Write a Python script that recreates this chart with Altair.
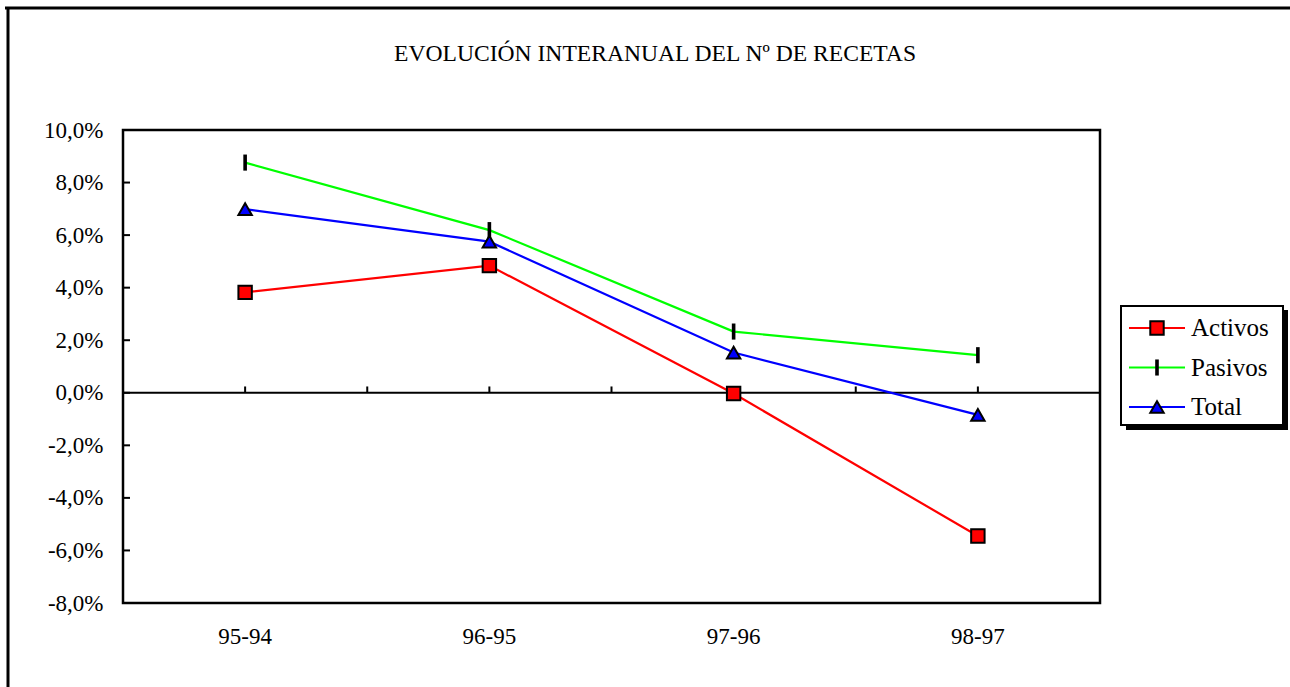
import altair as alt
import pandas as pd

categorias = ["95-94", "96-95", "97-96", "98-97"]
series = ["Activos", "Pasivos", "Total"]
activos = [0.0382, 0.0484, -0.0003, -0.0545]
pasivos = [0.0876, 0.0619, 0.0233, 0.0143]
total = [0.0699, 0.0575, 0.0153, -0.0084]
y_ticks = [-0.08, -0.06, -0.04, -0.02, 0.0, 0.02, 0.04, 0.06, 0.08, 0.10]
titulo = "EVOLUCIÓN INTERANUAL DEL Nº DE RECETAS"
colores = ["#ff0000", "#00ff00", "#0000ff"]
rellenos = ["#ff0000", "#000000", "#0000ff"]
formas = ["square", "M-0.12,-1.05H0.12V1.05H-0.12Z", "triangle-up"]

FONT = "Liberation Serif, Times New Roman, serif"
W, H = 977, 473

rows = []
for s, vals in zip(series, [activos, pasivos, total]):
    for c, v in zip(categorias, vals):
        rows.append({"cat": c, "serie": s, "valor": v})
df = pd.DataFrame(rows)

xscale = alt.Scale(type="band", domain=categorias, paddingInner=0, paddingOuter=0)
yscale = alt.Scale(domain=[-0.08, 0.10], nice=False, zero=False)
cscale = alt.Scale(domain=series, range=colores)
fscale = alt.Scale(domain=series, range=rellenos)
sscale = alt.Scale(domain=series, range=formas)

label_expr = "replace(replace(format(datum.value, '.1%'), '.', ','), '\u2212', '-')"

base = alt.Chart(df)

lines = base.mark_line(strokeWidth=2.2).encode(
    x=alt.X("cat:N", scale=xscale, bandPosition=0.5, sort=categorias,
            axis=alt.Axis(title=None, domain=False, ticks=False, labelAngle=0,
                          labelAlign="center", labelBaseline="middle",
                          labelFont=FONT, labelFontSize=23, labelColor="black",
                          labelPadding=33, grid=False)),
    y=alt.Y("valor:Q", scale=yscale,
            axis=alt.Axis(title=None, values=y_ticks, labelExpr=label_expr,
                          domain=False, ticks=False, grid=False,
                          labelFont=FONT, labelFontSize=23, labelColor="black",
                          labelPadding=20)),
    color=alt.Color("serie:N", scale=cscale, legend=None),
    detail="serie:N",
)

points = base.mark_point(filled=True, size=180, stroke="black", strokeWidth=2, opacity=1).encode(
    x=alt.X("cat:N", scale=xscale, bandPosition=0.5, sort=categorias),
    y=alt.Y("valor:Q", scale=yscale),
    fill=alt.Fill("serie:N", scale=fscale, legend=None),
    shape=alt.Shape("serie:N", scale=sscale, legend=None),
)

# zero line
zero = alt.Chart(pd.DataFrame({"z": [0.0]})).mark_rule(color="black", strokeWidth=2).encode(
    y=alt.Y("z:Q", scale=yscale)
)

# tick marks on the zero line (category centres and boundaries)
tick_df = pd.DataFrame({"cat": categorias, "y0": [0.0] * 4, "y1": [0.0024] * 4})
ticks_c = alt.Chart(tick_df).mark_rule(color="black", strokeWidth=2).encode(
    x=alt.X("cat:N", scale=xscale, bandPosition=0.5, sort=categorias),
    y=alt.Y("y0:Q", scale=yscale), y2="y1:Q"
)
ticks_b = alt.Chart(tick_df.iloc[1:]).mark_rule(color="black", strokeWidth=2).encode(
    x=alt.X("cat:N", scale=xscale, bandPosition=0, sort=categorias),
    y=alt.Y("y0:Q", scale=yscale), y2="y1:Q"
)

# inward y ticks
ytick_df = pd.DataFrame({"v": y_ticks[1:-1]})
yticks = alt.Chart(ytick_df).mark_rule(color="black", strokeWidth=2).encode(
    y=alt.Y("v:Q", scale=yscale), x=alt.value(0), x2=alt.value(7)
)

main = alt.layer(zero, ticks_c, ticks_b, yticks, lines, points)

one = pd.DataFrame({"t": [titulo]})

# outer frame (top & left)
frame_top = alt.Chart(one).mark_rule(color="black", strokeWidth=3).encode(
    x=alt.value(-118), x2=alt.value(1290), y=alt.value(-122)
)
frame_left = alt.Chart(one).mark_rule(color="black", strokeWidth=3).encode(
    x=alt.value(-115), y=alt.value(-123), y2=alt.value(700)
)
title_txt = alt.Chart(one).mark_text(align="center", baseline="alphabetic", font=FONT,
                                     fontSize=23.6, color="black").encode(
    x=alt.value(532), y=alt.value(-69), text="t:N"
)

# legend box with shadow
shadow = alt.Chart(one).mark_rect(color="black").encode(
    x=alt.value(1003), x2=alt.value(1165), y=alt.value(180), y2=alt.value(300)
)
box = alt.Chart(one).mark_rect(fill="white", stroke="black", strokeWidth=2).encode(
    x=alt.value(998), x2=alt.value(1160), y=alt.value(176), y2=alt.value(295)
)
leg_df = pd.DataFrame({"serie": series})
leg_y = alt.Y("serie:N", scale=alt.Scale(type="point", domain=series, range=[198, 277], padding=0),
              axis=None)
leg_line = alt.Chart(leg_df).mark_rule(strokeWidth=2.2).encode(
    y=leg_y, x=alt.value(1006), x2=alt.value(1062),
    color=alt.Color("serie:N", scale=cscale, legend=None),
)
leg_pt = alt.Chart(leg_df).mark_point(filled=True, size=180, stroke="black", strokeWidth=2, opacity=1).encode(
    y=leg_y, x=alt.value(1034),
    fill=alt.Fill("serie:N", scale=fscale, legend=None),
    shape=alt.Shape("serie:N", scale=sscale, legend=None),
)
leg_txt = alt.Chart(leg_df).mark_text(align="left", baseline="middle", font=FONT, fontSize=25, color="black").encode(
    y=leg_y, x=alt.value(1068), text="serie:N"
)
legend = alt.layer(shadow, box, leg_line, leg_pt, leg_txt)

chart = alt.layer(main, frame_top, frame_left, title_txt, legend).resolve_scale(
    y="independent", fill="independent", shape="independent", color="independent"
).properties(
    width=W, height=H,
    padding={"left": 123, "top": 130, "right": 190, "bottom": 84},
    autosize=alt.AutoSizeParams(type="none"),
    background="white",
).configure_view(stroke="black", strokeWidth=2.5)

chart.save("out.html", embed_options={"renderer": "svg", "actions": False})
